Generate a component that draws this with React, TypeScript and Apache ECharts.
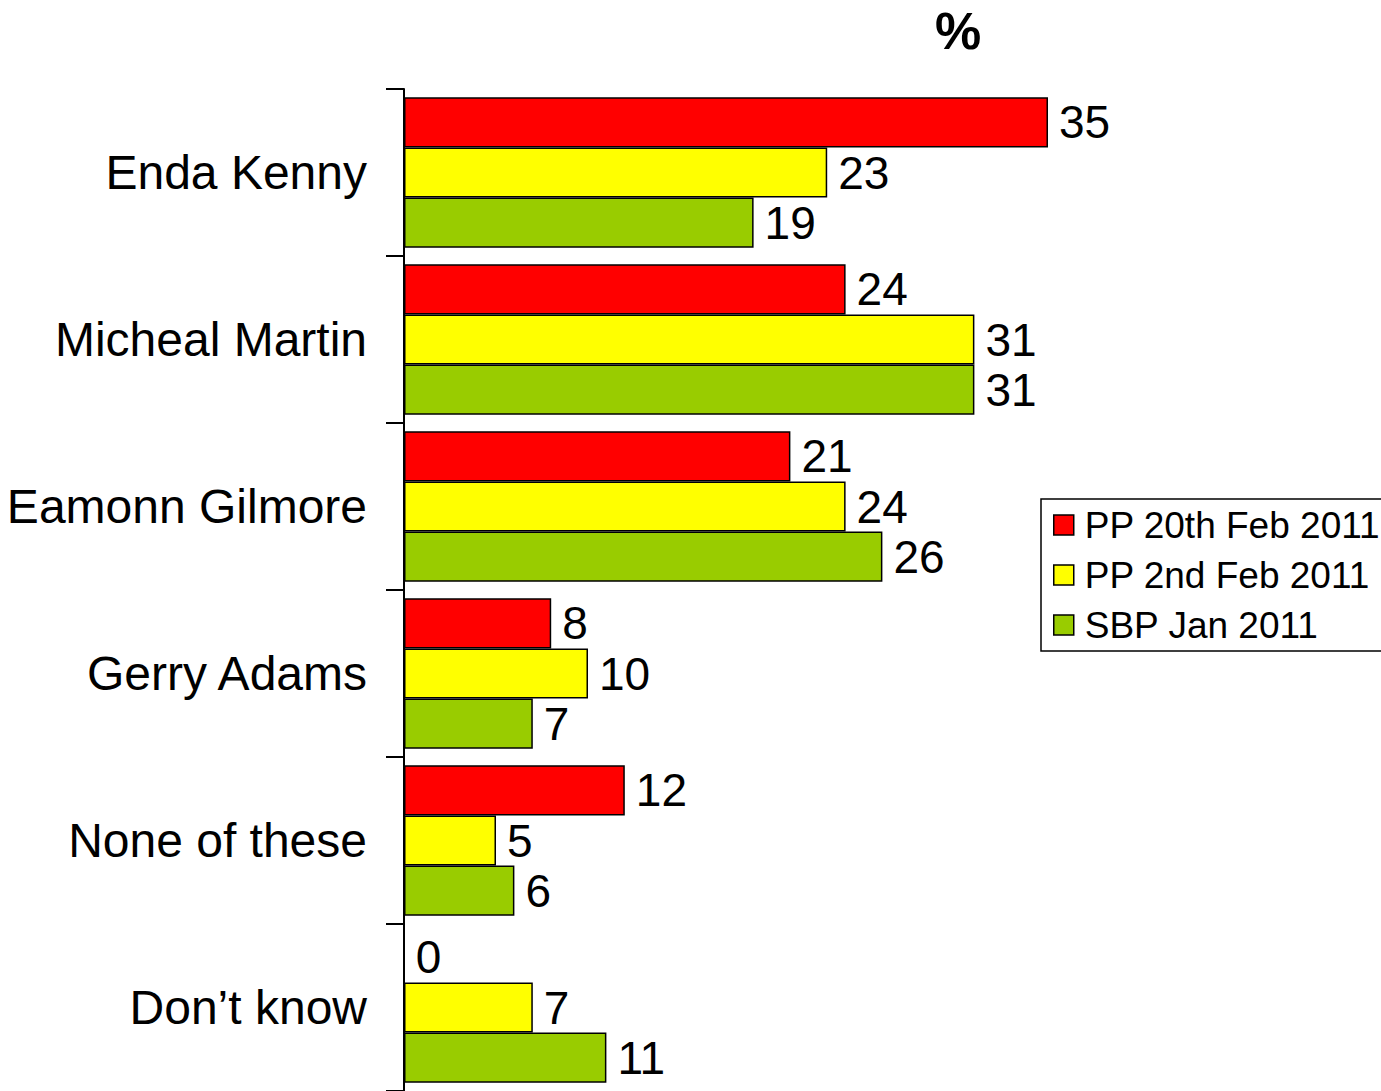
import React, { useEffect, useRef } from "react";
import * as echarts from "echarts";

const categories = ["Enda Kenny", "Micheal Martin", "Eamonn Gilmore", "Gerry Adams", "None of these", "Don\u2019t know"];
const seriesNames = ["PP 20th Feb 2011", "PP 2nd Feb 2011", "SBP Jan 2011"];
const pp20Feb = [35, 24, 21, 8, 12, 0];
const pp2Feb = [23, 31, 24, 10, 5, 7];
const sbpJan = [19, 31, 26, 7, 6, 11];
const colors = ["#FF0000", "#FFFF00", "#99CC00"];

const FONT = "'Liberation Sans', Arial, Helvetica, sans-serif";

export default function App() {
  const ref = useRef<HTMLDivElement>(null);
  useEffect(() => {
    document.body.style.margin = "0";
    const chart = echarts.init(ref.current!, null, { renderer: "svg" });
    const values = [pp20Feb, pp2Feb, sbpJan];
    chart.setOption({
      animation: false,
      backgroundColor: "#ffffff",
      textStyle: { fontFamily: FONT },
      title: {
        text: "%",
        left: 953,
        top: 0,
        textAlign: "center",
        textStyle: { fontFamily: FONT, fontSize: 52, fontWeight: "bold", color: "#000" },
      },
      legend: {
        orient: "vertical",
        left: 1041,
        top: 499,
        padding: [6, 60, 6, 12],
        borderColor: "#000",
        borderWidth: 1.5,
        itemWidth: 20,
        itemHeight: 20,
        itemGap: 10,
        icon: "rect",
        itemStyle: { borderColor: "#000", borderWidth: 1.5 },
        textStyle: { fontFamily: FONT, fontSize: 37, color: "#000", lineHeight: 40, padding: [0, 0, 0, 6] },
        data: seriesNames,
      },
      grid: { left: 404, top: 89, width: 920, height: 1004 },
      xAxis: {
        type: "value",
        min: 0,
        max: 50,
        show: false,
      },
      yAxis: {
        type: "category",
        data: categories,
        inverse: true,
        axisLine: { show: true, lineStyle: { color: "#000", width: 2 } },
        axisTick: { show: true, length: 18, lineStyle: { color: "#000", width: 2 } },
        axisLabel: { fontFamily: FONT, fontSize: 48, color: "#000", margin: 37, padding: [0, 0, 6, 0] },
        splitLine: { show: false },
      },
      series: seriesNames.map((name, i) => ({
        name,
        type: "bar",
        data: values[i],
        barGap: "0%",
        barCategoryGap: "10%",
        itemStyle: { color: colors[i], borderColor: "#000", borderWidth: 1.5 },
        label: {
          show: true,
          position: "right",
          distance: 11,
          fontFamily: FONT,
          fontSize: 46,
          color: "#000",
          padding: [0, 0, 6, 0],
        },
      })),
    });
    return () => chart.dispose();
  }, []);
  return <div ref={ref} style={{ width: 1381, height: 1091 }} />;
}
